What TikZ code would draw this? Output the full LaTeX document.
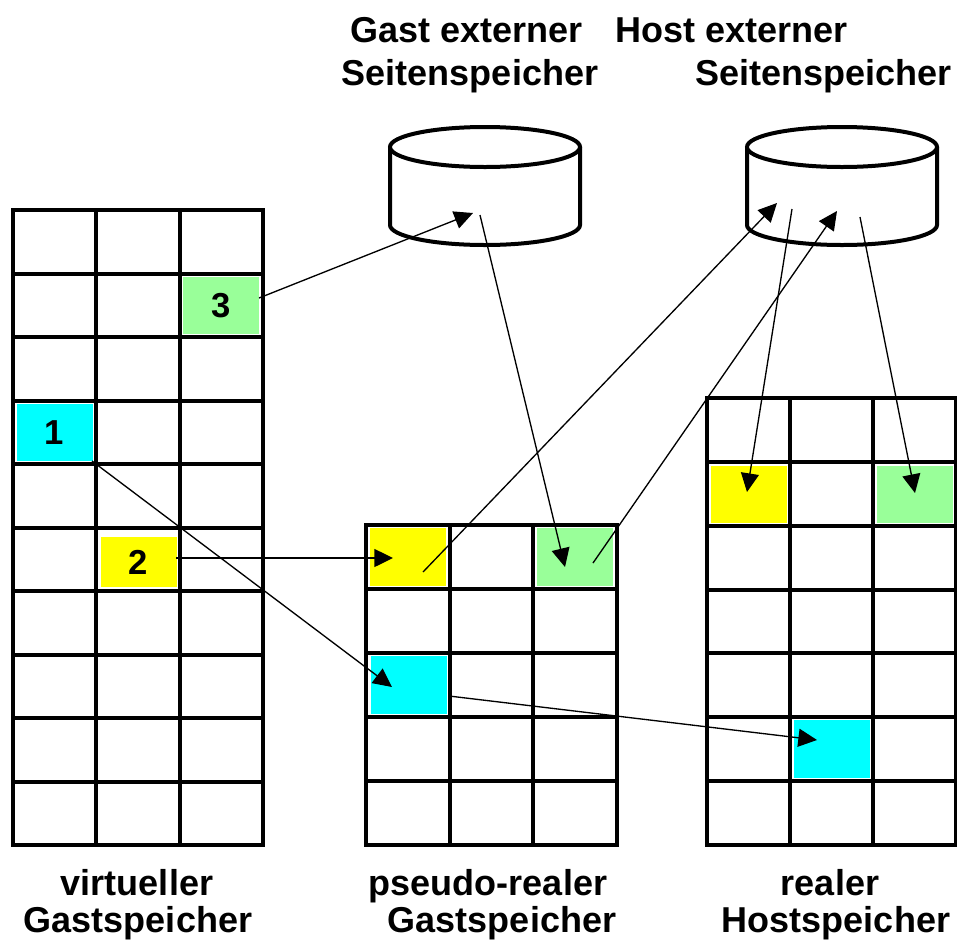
\documentclass[tikz,border=0pt]{standalone}
\usepackage{fontspec}
\setmainfont{Liberation Sans}
\usetikzlibrary{arrows.meta}
\definecolor{cellgreen}{RGB}{153,255,153}
\definecolor{cellcyan}{RGB}{0,255,255}
\definecolor{cellyellow}{RGB}{255,255,0}
\begin{document}
\begin{tikzpicture}[x=0.75pt,y=-0.75pt,
  gridline/.style={line width=3pt, line cap=rect},
  cylline/.style={line width=3pt},
  cellbox/.style={draw=none, inner sep=0pt, minimum width=57pt, minimum height=43pt, font=\fontsize{26}{30}\selectfont\bfseries},
  lbl/.style={inner sep=0pt, font=\fontsize{27}{32}\selectfont\bfseries},
  conn/.style={line width=1pt, -{Triangle[length=14pt,width=13.5pt]}}]
\useasboundingbox (0,0) rectangle (957,940);

% coloured cells
\node[cellbox, fill=cellgreen] (L3) at (221,305.5) {3};
\node[cellbox, fill=cellcyan] (L1) at (54.5,432.5) {1};
\node[cellbox, fill=cellyellow, minimum height=37.5pt] (L2) at (138.5,562) {2};
\node[cellbox, fill=cellyellow] (MY) at (407.5,557) {};
\node[cellbox, fill=cellgreen] (MG) at (575,557) {};
\node[cellbox, fill=cellcyan] (MC) at (408.5,685) {};
\node[cellbox, fill=cellyellow] (RY) at (748.5,494.5) {};
\node[cellbox, fill=cellgreen] (RG) at (914.5,494.5) {};
\node[cellbox, fill=cellcyan] (RC) at (831.5,749) {};

% left grid
\foreach \i in {0,...,3} \draw[gridline] ({13+83.333*\i},210) -- ({13+83.333*\i},845);
\foreach \j in {0,...,10} \draw[gridline] (13,{210+63.5*\j}) -- (263,{210+63.5*\j});
% middle grid
\foreach \i in {0,...,3} \draw[gridline] ({366+83.667*\i},525) -- ({366+83.667*\i},845);
\foreach \j in {0,...,5} \draw[gridline] (366,{525+64*\j}) -- (617,{525+64*\j});
% right grid
\foreach \i in {0,...,3} \draw[gridline] ({707+83*\i},398) -- ({707+83*\i},845);
\foreach \j in {0,...,7} \draw[gridline] (707,{398+63.857*\j}) -- (956,{398+63.857*\j});

% cylinders
\draw[cylline, fill=white] (390,147) -- (390,225) arc[start angle=180, end angle=0, x radius=95, y radius=20] -- (580,147);
\draw[cylline, fill=white] (485,147) ellipse[x radius=95, y radius=20];
\draw[cylline, fill=white] (747,147) -- (747,225) arc[start angle=180, end angle=0, x radius=95, y radius=20] -- (937,147);
\draw[cylline, fill=white] (842,147) ellipse[x radius=95, y radius=20];

% connector end points
\coordinate (a1s) at (259,298);  \coordinate (a1e) at (473,213);
\coordinate (a2s) at (480,215);  \coordinate (a2e) at (565,567);
\coordinate (a3s) at (423,572);  \coordinate (a3e) at (777,203);
\coordinate (a4s) at (593,563);  \coordinate (a4e) at (837,211);
\coordinate (a5s) at (792,209);  \coordinate (a5e) at (747,492);
\coordinate (a6s) at (860,217);  \coordinate (a6e) at (915,493);
\coordinate (a7s) at (176,558);  \coordinate (a7e) at (393,558);
\coordinate (a8s) at (92,461);   \coordinate (a8e) at (392,687);
\coordinate (a9s) at (449,696);  \coordinate (a9e) at (817,740);

\draw[conn] (a1s) -- (a1e);
\draw[conn] (a2s) -- (a2e);
\draw[conn] (a3s) -- (a3e);
\draw[conn] (a4s) -- (a4e);
\draw[conn] (a5s) -- (a5e);
\draw[conn] (a6s) -- (a6e);
\draw[conn] (a7s) -- (a7e);
\draw[conn] (a8s) -- (a8e);
\draw[conn] (a9s) -- (a9e);

% labels
\node[lbl, anchor=base] (t1) at (467,42) {Gast externer};
\node[lbl, anchor=base] (t2) at (470,85) {Seitenspeicher};
\node[lbl, anchor=base west] (t3) at (615,42) {Host externer};
\node[lbl, anchor=base east] (t4) at (952,85) {Seitenspeicher};
\node[lbl, anchor=base] (b1) at (137,895) {virtueller};
\node[lbl, anchor=base] (b2) at (138,932) {Gastspeicher};
\node[lbl, anchor=base] (b3) at (488,895) {pseudo-realer};
\node[lbl, anchor=base] (b4) at (502,932) {Gastspeicher};
\node[lbl, anchor=base] (b5) at (830,895) {realer};
\node[lbl, anchor=base] (b6) at (836,932) {Hostspeicher};
\end{tikzpicture}
\end{document}
